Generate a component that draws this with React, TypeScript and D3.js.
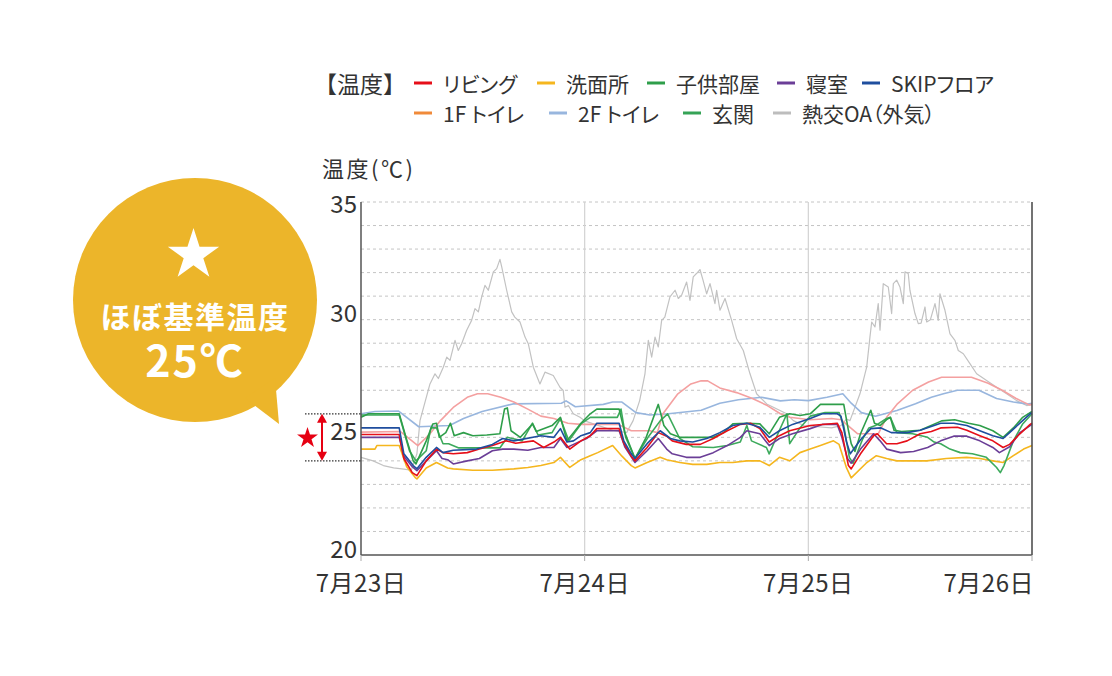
import React from "react";
import * as d3 from "d3";

type Pt = [number, number];

// legend / series names
const seriesNames = ["リビング", "洗面所", "子供部屋", "寝室", "SKIPフロア", "1F トイレ", "2F トイレ", "玄関", "熱交OA（外気）"];
const legendColors = ["#E60F19", "#F5B61E", "#2E9E4A", "#6B3E97", "#1F4E9E", "#F08A3A", "#98B6DE", "#35A356", "#BDBDBD"];
const lineColors = ["#E60F19", "#F5B61E", "#2E9E4A", "#6B3E97", "#1F4E9E", "#F4A0A0", "#98B6DE", "#3DAA5C", "#C2C2C2"];

// y axis
const yTicks = [20, 25, 30, 35];
const yGrid = [21, 22, 23, 24, 25, 26, 27, 28, 29, 30, 31, 32, 33, 34, 35];
// x axis: hours from 7/23 0:00
const dayHours = [0, 24, 48, 72];
const dayLabels = ["7月23日", "7月24日", "7月25日", "7月26日"];

// [hour, °C]
const living: Pt[] = [[0,25.12],[4.1,25.12],[4.6,24.1],[5.5,23.5],[6.0,23.37],[7.0,24.0],[8.1,24.5],[8.8,24.35],[9.9,24.3],[11.4,24.35],[12.7,24.5],[14.1,24.65],[15.6,24.85],[16.6,24.75],[18.5,24.85],[19.6,24.57],[20.7,24.8],[21.4,25.0],[22.1,24.65],[22.4,24.5],[23.6,24.85],[24.6,25.07],[25.3,25.37],[27.7,25.37],[28.2,24.75],[29.0,24.2],[29.4,24.0],[30.7,24.57],[31.9,25.2],[32.8,25.05],[33.4,24.85],[34.9,24.7],[36.4,24.7],[37.8,24.95],[39.3,25.28],[40.7,25.55],[41.8,25.6],[42.8,25.37],[43.8,24.8],[44.9,25.07],[46,25.28],[48.2,25.5],[51.1,25.6],[51.6,25.2],[52.3,23.8],[52.6,23.66],[53.6,24.3],[55.0,25.07],[55.4,25.15],[56.4,24.73],[57.5,24.73],[58.6,24.85],[60.0,25.15],[61.2,25.25],[62.2,25.4],[64,25.43],[65,25.3],[66.4,25.07],[67.8,24.85],[68.9,24.57],[69.6,24.7],[70.7,25.15],[71.8,25.55],[72,25.6]];
const washroom: Pt[] = [[0,24.5],[1.5,24.5],[1.7,24.65],[4.1,24.65],[4.9,23.75],[5.8,23.3],[6.0,23.23],[7.0,23.7],[8.1,23.93],[9.3,23.7],[9.9,23.66],[12.0,23.6],[14.1,23.6],[16.4,23.66],[17.9,23.72],[19.3,23.8],[20.7,23.93],[21.4,24.15],[22.4,23.72],[23.6,24.05],[24.6,24.22],[25.4,24.35],[27.0,24.65],[28.0,24.2],[29.0,23.8],[29.4,23.7],[30.7,23.93],[32.1,24.15],[32.8,24.05],[34.2,23.93],[35.6,23.85],[37.1,23.85],[38.5,23.93],[39.9,23.93],[41.4,24.0],[42.8,24.0],[43.8,23.8],[44.9,24.15],[46,24.0],[47.1,24.35],[48.2,24.5],[49.3,24.65],[50.7,24.85],[51.3,24.7],[52.1,23.7],[52.6,23.28],[54.2,23.9],[55.3,24.22],[56.4,24.1],[57.5,24.0],[60.7,24.0],[62.8,24.1],[65,24.15],[66.4,24.1],[67.8,24.0],[68.9,23.93],[70,24.22],[71.1,24.5],[72,24.65]];
const kidsRoom: Pt[] = [[0,25.85],[0.8,26.0],[4.1,26.0],[4.9,24.9],[5.6,24.0],[5.9,23.87],[7.0,24.85],[7.7,25.57],[8.1,25.6],[8.4,25.0],[9.1,25.2],[9.6,25.6],[10.0,25.07],[11.0,25.2],[12.0,25.07],[13.5,25.1],[14.9,25.15],[15.4,26.2],[15.7,26.25],[16.1,25.28],[17.1,25.0],[18.4,25.57],[18.8,25.25],[20.5,25.5],[21.4,25.85],[22.1,24.85],[22.8,25.2],[23.6,25.6],[24.6,26.0],[25.3,26.2],[27.7,26.2],[28.3,25.2],[29.4,24.1],[30.6,25.0],[31.9,26.4],[32.5,25.5],[33.2,25.15],[34.2,25.0],[37.8,25.0],[38.9,25.2],[39.9,25.57],[41.4,25.6],[42.8,25.57],[43.8,25.15],[44.9,25.85],[46,26.0],[47.1,25.93],[48.2,26.0],[49.3,26.4],[51.8,26.4],[52.3,25.3],[52.6,24.73],[53.0,24.4],[53.6,25.15],[54.7,26.15],[55.1,25.6],[55.7,25.5],[56.4,25.75],[56.8,25.85],[57.2,25.3],[58.0,25.25],[60,25.3],[62.3,25.7],[63.7,25.75],[65.2,25.6],[66.4,25.5],[67.8,25.28],[68.9,25.0],[70,25.4],[71,25.85],[72,26.1]];
const bedroom: Pt[] = [[0,25.0],[4.1,25.0],[4.6,24.2],[5.5,23.75],[6.0,23.58],[7.0,24.0],[8.1,24.43],[8.7,24.1],[9.3,24.05],[9.9,23.87],[11.4,24.0],[12.7,24.1],[14.1,24.43],[15.2,24.5],[16.4,24.5],[17.9,24.45],[19.3,24.57],[20.7,24.57],[21.4,24.95],[22.1,24.57],[22.8,24.7],[24.2,24.95],[25.3,25.28],[27.7,25.28],[28.3,24.6],[29.4,23.93],[30.7,24.43],[31.9,24.95],[32.8,24.5],[33.4,24.3],[34.9,24.15],[36.4,24.15],[37.8,24.35],[39.3,24.65],[40.7,25.0],[41.4,25.28],[42.8,25.15],[43.8,24.65],[44.9,24.95],[46.3,25.15],[48.2,25.37],[49.5,25.55],[51.1,25.55],[51.6,25.0],[52.2,24.1],[52.6,23.9],[53.6,24.5],[55.0,25.15],[55.7,24.85],[56.4,24.5],[57.9,24.35],[59.3,24.4],[60.8,24.57],[62.2,24.85],[63.6,25.05],[65,25.05],[66.4,24.85],[67.8,24.57],[68.5,24.35],[69.6,24.6],[70.7,25.2],[71.8,25.5],[72,25.55]];
const skipFloor: Pt[] = [[0,25.4],[4.1,25.4],[4.6,24.3],[5.6,23.8],[6.0,23.66],[7.0,24.15],[8.1,24.57],[8.8,24.35],[9.9,24.45],[12.4,24.5],[14.1,24.7],[15.2,24.95],[16.4,24.85],[19.3,25.07],[20.7,25.0],[21.4,25.37],[22.1,24.8],[22.8,24.85],[23.6,25.07],[24.6,25.2],[25.3,25.6],[27.7,25.6],[28.2,24.85],[29.0,24.3],[29.4,24.1],[30.7,24.73],[32.1,25.28],[33.2,24.95],[34.2,24.85],[35.6,24.8],[37.1,24.95],[38.5,25.2],[39.9,25.5],[41.4,25.6],[42.8,25.43],[43.8,25.0],[44.9,25.28],[46.3,25.55],[48.2,25.8],[49.5,26.0],[51.1,26.0],[51.5,25.9],[52.1,24.8],[52.5,24.3],[53.6,24.9],[54.7,25.37],[55.8,25.4],[56.9,25.2],[58.6,25.2],[60,25.3],[62.2,25.6],[63.6,25.6],[65,25.5],[66.4,25.28],[67.8,25.07],[68.9,24.95],[69.6,25.2],[70.7,25.6],[71.8,26.0],[72,26.05]];
const toilet1F: Pt[] = [[0,25.22],[4.2,25.25],[6.1,24.65],[7.4,25.15],[8.5,25.7],[9.9,26.27],[11.4,26.7],[12.5,26.85],[13.6,26.85],[15,26.7],[16.4,26.5],[17.9,26.2],[19.3,25.9],[20.7,25.8],[22.2,25.6],[23.6,25.55],[27.6,25.55],[29,25.28],[31,25.28],[31.8,25.2],[32.4,26.0],[34,26.85],[35.4,27.27],[36.5,27.4],[37.2,27.4],[38.5,27.1],[40.3,26.9],[42,26.65],[43.6,26.35],[45,26.0],[46,25.85],[48.2,25.75],[50.5,25.8],[51.5,25.75],[53.3,25.15],[55.5,25.15],[56.4,25.85],[57.5,26.4],[59.2,27.0],[60.9,27.35],[62.3,27.55],[65.5,27.55],[67.3,27.3],[68.8,27.0],[70.3,26.65],[71.7,26.38],[72,26.4]];
const toilet2F: Pt[] = [[0,26.0],[1.5,26.1],[4.0,26.12],[6.2,25.45],[9.5,25.5],[11,25.8],[13,26.1],[16.3,26.42],[21.5,26.45],[22.0,26.55],[23,26.3],[26,26.4],[27,26.5],[28,26.5],[29.5,26.05],[31,25.95],[33,26.0],[36.5,26.15],[38.5,26.45],[40.5,26.6],[43,26.7],[45,26.55],[46.5,26.6],[48,26.56],[50,26.7],[51.7,26.85],[52.6,26.45],[53.7,26.05],[55.2,25.9],[57.5,26.14],[59.5,26.43],[61.2,26.7],[62.5,26.85],[64,27.0],[66.3,27.0],[68.2,26.65],[70,26.5],[71.5,26.42],[72,26.45]];
const entrance: Pt[] = [[0,25.95],[4.1,25.95],[5.2,24.43],[5.9,24.0],[7.0,24.43],[7.5,25.4],[8.1,25.4],[8.8,24.73],[9.4,24.73],[10.5,24.55],[14.9,24.55],[15.7,25.0],[17.3,24.85],[18.4,25.6],[19.0,25.1],[20.5,25.2],[21.4,25.8],[22.3,24.85],[23.6,25.57],[24.6,25.85],[27.5,25.85],[27.9,26.2],[28.4,25.0],[29.4,24.1],[30.8,25.0],[32.1,25.7],[32.9,26.0],[34.2,24.95],[35.6,24.6],[37.8,24.57],[39.3,24.65],[40.7,24.8],[41.4,25.5],[41.9,24.85],[43.5,24.57],[43.8,24.3],[44.9,25.3],[45.7,26.0],[46.0,24.73],[47.1,25.4],[48.2,25.9],[49.8,26.05],[51.3,26.05],[51.8,25.5],[52.4,24.15],[52.8,23.9],[53.8,24.9],[54.5,25.4],[55.2,25.5],[56.4,25.8],[56.8,25.85],[57.5,25.2],[59.2,25.15],[60.8,25.0],[61.5,24.8],[62.2,24.73],[63.2,24.5],[64.3,24.35],[65.6,24.3],[67.1,24.15],[68.2,23.72],[68.6,23.5],[69.0,23.8],[70.0,24.85],[71,25.57],[72,26.0]];
const outdoor: Pt[] = [[0,24.15],[1.3,24.0],[2.4,23.8],[3.5,23.7],[4.6,23.65],[5.4,23.6],[6.0,24.3],[6.33,25.71],[7.4,27.27],[7.94,27.7],[8.3,27.5],[8.83,27.98],[9.2,28.41],[9.55,28.27],[10.09,29.12],[10.44,28.69],[10.8,28.98],[11.34,29.55],[11.87,29.97],[12.23,30.47],[12.59,30.33],[12.95,30.97],[13.3,31.46],[13.66,31.25],[14.2,32.03],[14.56,32.17],[14.91,32.56],[15.1,32.24],[15.63,31.25],[16.17,30.33],[16.5,30.11],[17.06,29.9],[17.6,29.26],[17.95,28.98],[18.49,27.98],[19.2,27.27],[19.74,27.77],[20.63,27.63],[21.35,27.13],[21.7,26.99],[21.89,26.28],[22.25,26.35],[22.78,26.0],[23.5,25.85],[24.0,25.7],[25.5,25.5],[27,25.3],[28.5,25.2],[29.2,25.71],[29.9,26.56],[30.47,27.7],[30.83,29.12],[31.19,28.41],[31.55,29.26],[31.9,28.84],[32.26,29.97],[32.6,30.11],[33.15,30.97],[33.7,31.25],[34.05,30.9],[34.4,31.04],[34.94,31.6],[35.3,30.82],[35.65,31.82],[36.0,31.96],[36.37,32.13],[36.7,31.68],[37.09,31.1],[37.45,31.53],[37.98,30.68],[38.16,31.25],[38.52,30.4],[39.06,30.9],[39.77,29.97],[40.31,29.19],[41.02,28.69],[41.74,27.7],[42.45,26.85],[43.53,26.42],[44.96,26.14],[45.67,26.0],[46.39,25.71],[47.5,25.5],[49,25.45],[50.5,25.4],[51.5,25.5],[52.1,25.78],[52.47,25.71],[53.54,26.85],[54.26,27.98],[54.61,29.26],[54.8,29.9],[55.15,29.69],[55.5,30.68],[55.69,29.55],[56.04,31.53],[56.58,31.39],[56.94,30.26],[57.12,31.53],[57.48,31.68],[57.83,31.39],[58.19,30.68],[58.37,32.03],[58.72,31.96],[58.9,31.25],[59.44,30.26],[59.8,29.83],[60.1,29.85],[60.52,30.54],[60.7,29.9],[61.1,30.0],[61.59,30.68],[61.94,29.97],[62.12,31.1],[62.66,30.4],[63.2,29.4],[63.73,29.12],[64.09,28.69],[64.63,28.55],[65.34,28.13],[66.06,27.7],[67.13,27.42],[68.2,27.13],[69.28,26.85],[70.35,26.56],[71.43,26.35],[72,26.4]];

const seriesData: Pt[][] = [living, washroom, kidsRoom, bedroom, skipFloor, toilet1F, toilet2F, entrance, outdoor];
// draw order (back to front)
const drawOrder = [8, 6, 5, 1, 7, 2, 3, 0, 4];

const FONT = "'Noto Sans CJK JP', 'Noto Sans', sans-serif";

function starPath(cx: number, cy: number, R: number): string {
  const r = R * 0.382;
  const pts: string[] = [];
  for (let i = 0; i < 10; i++) {
    const rad = i % 2 === 0 ? R : r;
    const a = -Math.PI / 2 + (i * Math.PI) / 5;
    pts.push(`${cx + rad * Math.cos(a)},${cy + rad * Math.sin(a)}`);
  }
  return "M" + pts.join("L") + "Z";
}

export default function App() {
  const left = 361, right = 1032, top = 202, bottom = 555;
  const x = d3.scaleLinear().domain([0, 72]).range([left, right]);
  const y = d3.scaleLinear().domain([20, 35]).range([bottom, top]);
  const line = d3.line<Pt>().x((d) => x(d[0])).y((d) => y(d[1]));

  const row1 = [0, 1, 2, 3, 4];
  const row2 = [5, 6, 7, 8];
  const row1X = [414, 537, 647, 777, 862];
  const row2X = [414, 549, 683, 773];
  const palt = { fontFeatureSettings: '"palt"' } as React.CSSProperties;

  const bandTop = y(26), bandBot = y(24);

  return (
    <svg width={1112} height={676} style={{ position: "absolute", left: 0, top: 0, background: "#fff" }} fontFamily={FONT}>
      {/* legend */}
      <text x={314} y={83} fontSize={23} fill="#333" dominantBaseline="central">【温度】</text>
      {row1.map((s, i) => (
        <g key={s}>
          <line x1={row1X[i]} x2={row1X[i] + 18} y1={83} y2={83} stroke={legendColors[s]} strokeWidth={3} />
          <text x={row1X[i] + 29} y={83} fontSize={21} fill="#333" dominantBaseline="central" style={palt}>{seriesNames[s]}</text>
        </g>
      ))}
      {row2.map((s, i) => (
        <g key={s}>
          <line x1={row2X[i]} x2={row2X[i] + 18} y1={113} y2={113} stroke={legendColors[s]} strokeWidth={3} />
          <text x={row2X[i] + 29} y={113} fontSize={21} fill="#333" dominantBaseline="central" style={palt}>{seriesNames[s]}</text>
        </g>
      ))}

      {/* axis title */}
      <text x={322} y={167} fontSize={22} fill="#333" dominantBaseline="central" letterSpacing={2.5}>温度(℃)</text>

      {/* grid */}
      {yGrid.map((v) => (
        <line key={v} x1={left} x2={right} y1={y(v)} y2={y(v)} stroke="#c4c4c4" strokeWidth={1} strokeDasharray="3 3" />
      ))}
      {dayHours.slice(1, 3).map((h) => (
        <line key={h} x1={x(h)} x2={x(h)} y1={top} y2={bottom} stroke="#d2d2d2" strokeWidth={1.2} />
      ))}

      {/* series */}
      {drawOrder.map((s) => (
        <path key={s} d={line(seriesData[s]) || ""} fill="none" stroke={lineColors[s]}
          strokeWidth={s === 8 ? 1.2 : 1.6} strokeLinejoin="round" />
      ))}

      {/* frame */}
      <line x1={left} x2={left} y1={top} y2={bottom} stroke="#555" strokeWidth={1.5} />
      <line x1={right} x2={right} y1={top} y2={bottom} stroke="#444" strokeWidth={1.5} />
      <line x1={left} x2={right} y1={bottom} y2={bottom} stroke="#555" strokeWidth={1.5} />
      {dayHours.map((h) => (
        <line key={h} x1={x(h)} x2={x(h)} y1={bottom} y2={bottom + 6} stroke="#aaa" strokeWidth={1} />
      ))}

      {/* y labels */}
      {yTicks.map((v) => (
        <text key={v} x={357} y={Math.max(y(v) - 8, y(35))} fontSize={24} fill="#333" textAnchor="end" dominantBaseline="central">{v}</text>
      ))}
      {/* x labels */}
      {dayHours.map((h, i) => (
        <text key={h} x={i === dayHours.length - 1 ? x(h) + 2 : x(h)} y={581} fontSize={24} fill="#333"
          textAnchor={i === dayHours.length - 1 ? "end" : "middle"} dominantBaseline="central" letterSpacing={0.5}>{dayLabels[i]}</text>
      ))}

      {/* 25°C band marker */}
      <line x1={305} x2={left} y1={bandTop} y2={bandTop} stroke="#333" strokeWidth={1.2} strokeDasharray="1.5 1.5" />
      <line x1={305} x2={left} y1={bandBot} y2={bandBot} stroke="#333" strokeWidth={1.2} strokeDasharray="1.5 1.5" />
      <line x1={322} x2={322} y1={bandTop + 6} y2={bandBot - 6} stroke="#E60012" strokeWidth={2} />
      <path d={`M${322},${bandTop} L${317},${bandTop + 9} L${327},${bandTop + 9} Z`} fill="#E60012" />
      <path d={`M${322},${bandBot} L${317},${bandBot - 9} L${327},${bandBot - 9} Z`} fill="#E60012" />
      <path d={starPath(307.5, 438, 11)} fill="#E60012" />

      {/* bubble */}
      <circle cx={195} cy={300} r={122} fill="#ECB52A" />
      <path d="M245,398 L279,424 L275,378 Z" fill="#ECB52A" />
      <path d={starPath(193.5, 255, 27)} fill="#fff" />
      <text x={195} y={315} fontSize={30} fontWeight={700} fill="#fff" textAnchor="middle" dominantBaseline="central" letterSpacing={1.5}>ほぼ基準温度</text>
      <text x={195} y={358} fontSize={43} fontWeight={700} fill="#fff" textAnchor="middle" dominantBaseline="central" letterSpacing={2}>25℃</text>
    </svg>
  );
}
